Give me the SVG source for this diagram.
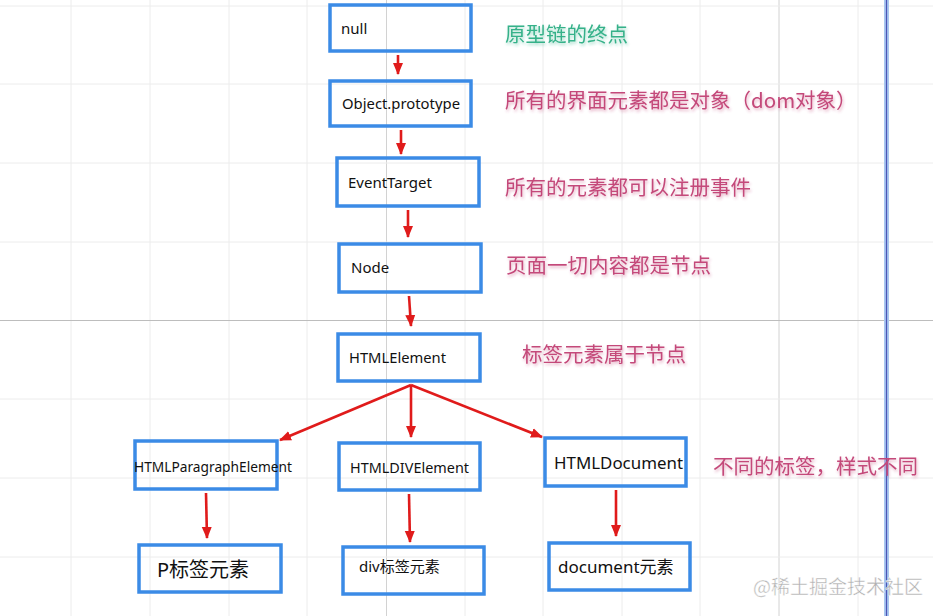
<svg xmlns="http://www.w3.org/2000/svg" width="933" height="616" viewBox="0 0 933 616">
<defs>
<style>
.grid{stroke:#ececec;stroke-width:1}
.gridd{stroke:#d2d2d2;stroke-width:1}
.box{fill:none;stroke:#3b8be6;stroke-width:3.5}
.lbl{font-family:"Noto Sans","Open Sans","Liberation Sans",sans-serif;fill:#111;font-size:15px}
.note{font-family:"Noto Sans CJK SC","Noto Sans",sans-serif;font-size:20.5px;fill:#c4497a;filter:url(#glow)}
.green{fill:#35b189}
.arr{stroke:#e01b1b;stroke-width:2.6;fill:none;marker-end:url(#ah)}
</style>
<marker id="ah" markerUnits="userSpaceOnUse" markerWidth="12" markerHeight="12" viewBox="0 0 12 12" refX="11" refY="6" orient="auto">
<path d="M0,1 L12,6 L0,11 Z" fill="#e01b1b"/>
</marker>
<filter id="glow" x="-10%" y="-30%" width="120%" height="160%">
<feGaussianBlur in="SourceGraphic" stdDeviation="1.6" result="b"/>
<feComponentTransfer in="b" result="bl"><feFuncA type="linear" slope="0.45"/></feComponentTransfer>
<feOffset in="bl" dx="1" dy="1.5" result="o"/>
<feMerge><feMergeNode in="o"/><feMergeNode in="SourceGraphic"/></feMerge>
</filter>
</defs>
<rect width="933" height="616" fill="#fff"/>
<g id="grid">
<line class="grid" x1="71" y1="0" x2="71" y2="616"/>
<line class="grid" x1="150" y1="0" x2="150" y2="616"/>
<line class="grid" x1="229" y1="0" x2="229" y2="616"/>
<line class="grid" x1="307" y1="0" x2="307" y2="616"/>
<line class="gridd" x1="386.5" y1="0" x2="386.5" y2="616"/>
<line class="grid" x1="465" y1="0" x2="465" y2="616"/>
<line class="grid" x1="543" y1="0" x2="543" y2="616"/>
<line class="grid" x1="622" y1="0" x2="622" y2="616"/>
<line class="grid" x1="700" y1="0" x2="700" y2="616"/>
<line class="gridd" x1="779" y1="0" x2="779" y2="616"/>
<line class="grid" x1="858" y1="0" x2="858" y2="616"/>
<line class="grid" x1="0" y1="6" x2="933" y2="6"/>
<line class="grid" x1="0" y1="84" x2="933" y2="84"/>
<line class="grid" x1="0" y1="163" x2="933" y2="163"/>
<line class="grid" x1="0" y1="242" x2="933" y2="242"/>
<line x1="0" y1="320.5" x2="933" y2="320.5" stroke="#bdbdbd" stroke-width="1"/>
<line class="grid" x1="0" y1="399" x2="933" y2="399"/>
<line class="grid" x1="0" y1="478" x2="933" y2="478"/>
<line class="grid" x1="0" y1="557" x2="933" y2="557"/>
<rect x="884" y="0" width="5" height="616" fill="#a9c7f0"/>
<line x1="886.5" y1="0" x2="886.5" y2="616" stroke="#4b55b5" stroke-width="1.2"/>
</g>
<g id="connectors">
<line class="arr" x1="398" y1="55" x2="398" y2="74"/>
<line class="arr" x1="401" y1="130" x2="401" y2="154"/>
<line class="arr" x1="408" y1="210" x2="408" y2="237"/>
<line class="arr" x1="409" y1="296" x2="411" y2="326"/>
<line class="arr" x1="411" y1="385" x2="280" y2="440"/>
<line class="arr" x1="411" y1="385" x2="411" y2="437"/>
<line class="arr" x1="411" y1="385" x2="542" y2="437"/>
<line class="arr" x1="206" y1="493" x2="207" y2="538"/>
<line class="arr" x1="409" y1="494" x2="410" y2="542"/>
<line class="arr" x1="616" y1="490" x2="616" y2="536"/>
</g>
<g id="n-null"><rect class="box" x="330" y="5" width="141" height="46"/><text class="lbl" x="341" y="34">null</text></g>
<g id="n-object"><rect class="box" x="330" y="81" width="141" height="45"/><text class="lbl" x="342" y="109" textLength="118" lengthAdjust="spacingAndGlyphs">Object.prototype</text></g>
<g id="n-eventtarget"><rect class="box" x="337" y="158" width="142" height="48"/><text class="lbl" x="348" y="188">EventTarget</text></g>
<g id="n-node"><rect class="box" x="339" y="244" width="142" height="48"/><text class="lbl" x="351" y="273">Node</text></g>
<g id="n-htmlelement"><rect class="box" x="338" y="334" width="142" height="47"/><text class="lbl" x="349" y="363" textLength="97" lengthAdjust="spacingAndGlyphs">HTMLElement</text></g>
<g id="n-paragraph"><rect class="box" x="135" y="441" width="142" height="48"/><text class="lbl" x="134" y="472" style="font-size:14px" textLength="158" lengthAdjust="spacingAndGlyphs">HTMLParagraphElement</text></g>
<g id="n-div"><rect class="box" x="339" y="443" width="141" height="47"/><text class="lbl" x="350" y="473" textLength="119" lengthAdjust="spacingAndGlyphs">HTMLDIVElement</text></g>
<g id="n-document"><rect class="box" x="545" y="438" width="141" height="48"/><text class="lbl" x="554" y="469" style="font-size:16.5px" textLength="129" lengthAdjust="spacingAndGlyphs">HTMLDocument</text></g>
<g id="n-p"><rect class="box" x="139" y="545" width="142" height="47"/><text class="lbl" x="157" y="577" style="font-size:20px;font-family:'Noto Sans','Noto Sans CJK SC',sans-serif">P标签元素</text></g>
<g id="n-divel"><rect class="box" x="343" y="547" width="141" height="47"/><text class="lbl" x="359" y="572" style="font-size:15px;font-family:'Noto Sans','Noto Sans CJK SC',sans-serif">div标签元素</text></g>
<g id="n-docel"><rect class="box" x="549" y="543" width="141" height="47"/><text class="lbl" x="558" y="573" style="font-size:17px;font-family:'Noto Sans','Noto Sans CJK SC',sans-serif">document元素</text></g>
<g id="notes">
<text class="note green" x="505" y="42">原型链的终点</text>
<text class="note" x="505" y="108">所有的界面元素都是对象（dom对象）</text>
<text class="note" x="505" y="195">所有的元素都可以注册事件</text>
<text class="note" x="506" y="273">页面一切内容都是节点</text>
<text class="note" x="522" y="362">标签元素属于节点</text>
<text class="note" x="713" y="474">不同的标签，样式不同</text>
</g>
<text x="753" y="594" font-family="'Noto Sans CJK SC',sans-serif" font-size="19" fill="#b0b0b0" stroke="#fff" stroke-width="0.4">@稀土掘金技术社区</text>
</svg>
